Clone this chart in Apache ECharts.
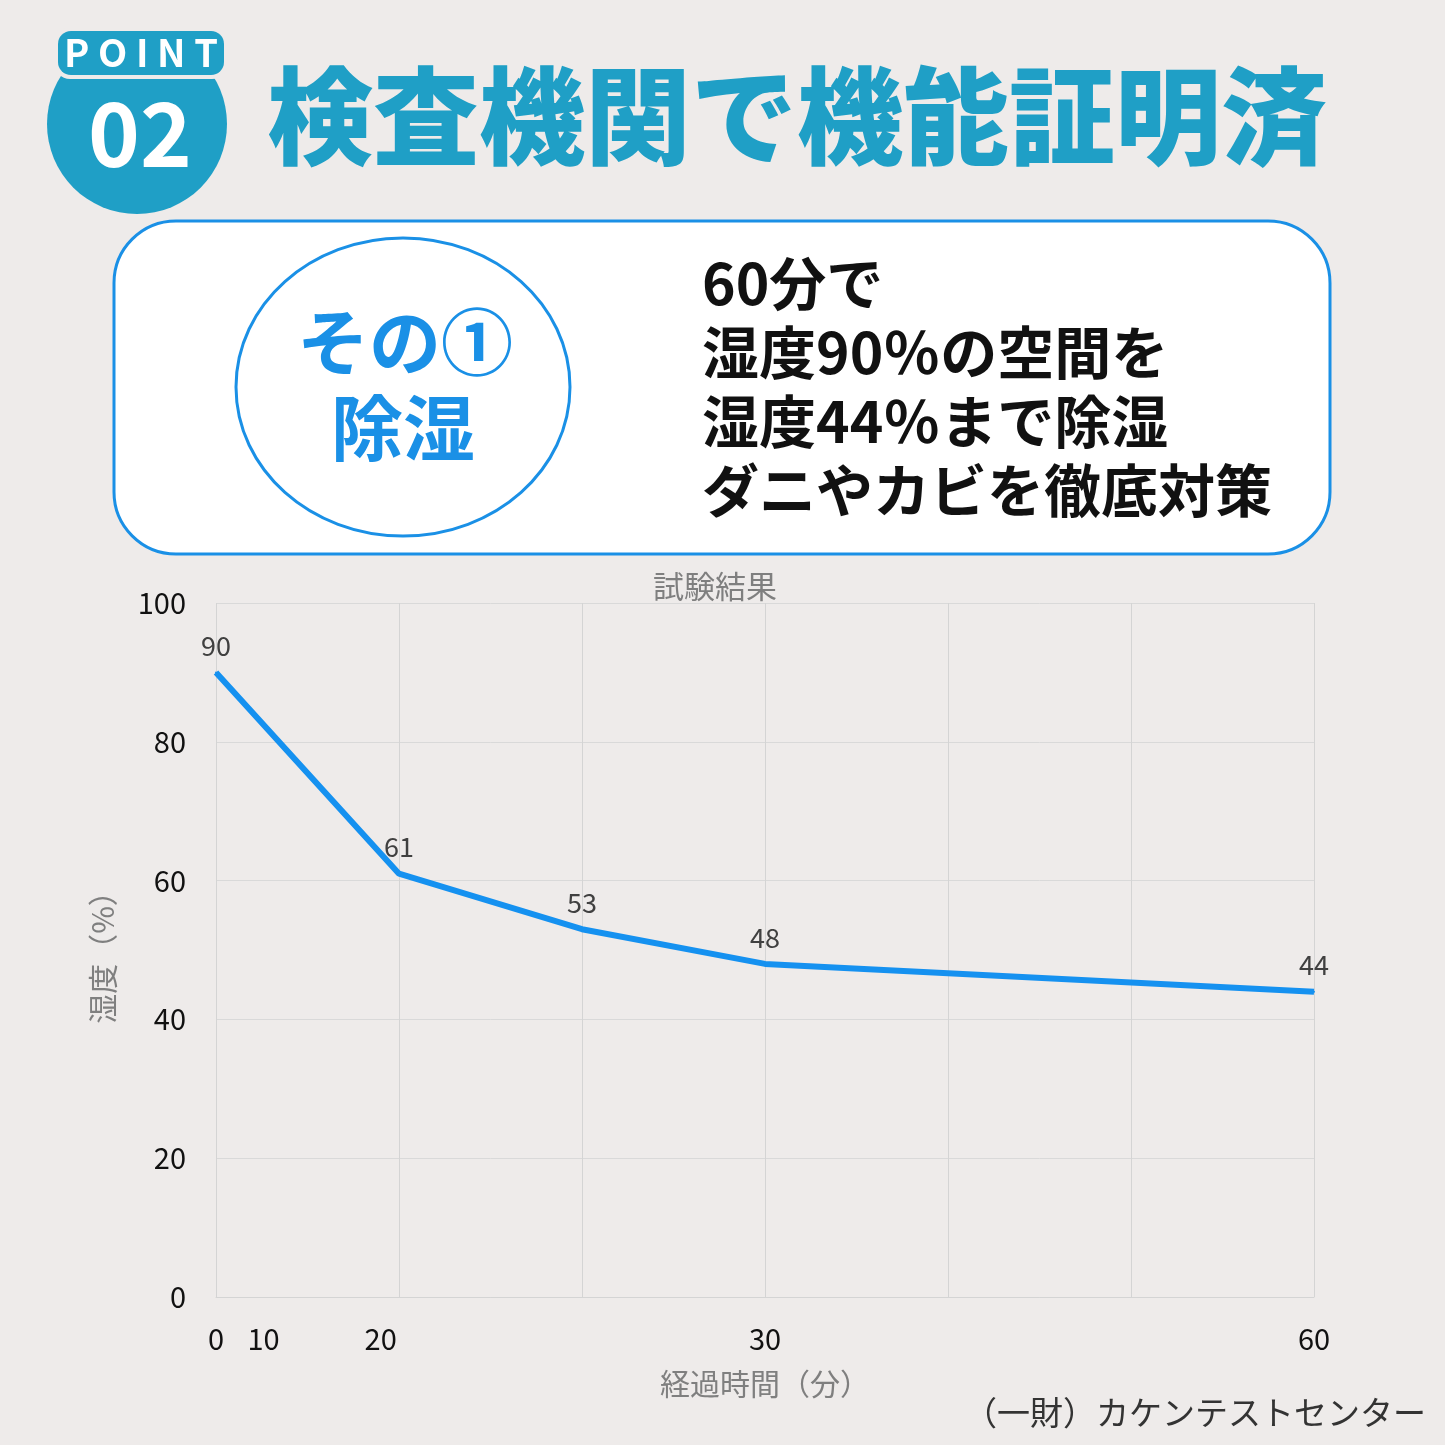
<!DOCTYPE html>
<html>
<head>
<meta charset="utf-8">
<script src="https://cdn.jsdelivr.net/npm/echarts@6/dist/echarts.min.js"></script>
<style>
  html, body { margin: 0; padding: 0; background: #eeebea; }
  #main { width: 1445px; height: 1445px; }
</style>
</head>
<body>
<div id="main"></div>
<script>
// 試験結果: 経過時間（分） vs 湿度（%）
var xPos = [0, 1, 2, 3, 6];
var humidity = [90, 61, 53, 48, 44];
var xTickPos = [0, 0.26, 0.9, 3, 6];
var xTickLabels = ['0', '10', '20', '30', '60'];
var yTicks = [0, 20, 40, 60, 80, 100];
var infoLines = ['60分で', '湿度90％の空間を', '湿度44％まで除湿', 'ダニやカビを徹底対策'];

var FONT = '"Noto Sans CJK JP", "Noto Sans", sans-serif';
var TEAL = '#1f9fc6';
var BLUE = '#1a90e6';

var chart = echarts.init(document.getElementById('main'));

var graphics = [
  // POINT 02 badge
  { type: 'circle', shape: { cx: 137, cy: 124, r: 90 }, style: { fill: TEAL } },
  { type: 'rect', shape: { x: 54, y: 27, width: 174, height: 52, r: 16 }, style: { fill: '#eeebea' } },
  { type: 'rect', shape: { x: 58, y: 31, width: 166, height: 44, r: 13 }, style: { fill: TEAL } },
  { type: 'text', x: 141, y: 53, style: { text: 'P O I N T', fill: '#fff', font: 'bold 38px ' + FONT, textAlign: 'center', textVerticalAlign: 'middle' } },
  { type: 'text', x: 140, y: 134, style: { text: '02', fill: '#fff', font: 'bold 88px ' + FONT, textAlign: 'center', textVerticalAlign: 'middle' } },
  { type: 'text', x: 267, y: 116, style: { text: '検査機関で機能証明済', fill: TEAL, font: '900 106px ' + FONT, textAlign: 'left', textVerticalAlign: 'middle' } },
  // white info box
  { type: 'rect', shape: { x: 114, y: 221, width: 1216, height: 333, r: 62 }, style: { fill: '#ffffff', stroke: BLUE, lineWidth: 3 } },
  { type: 'ellipse', shape: { cx: 403, cy: 387, rx: 167, ry: 149 }, style: { fill: '#ffffff', stroke: BLUE, lineWidth: 3 } },
  { type: 'text', x: 405, y: 342, style: { text: 'その①', fill: BLUE, font: 'bold 72px ' + FONT, textAlign: 'center', textVerticalAlign: 'middle' } },
  { type: 'text', x: 403, y: 428, style: { text: '除湿', fill: BLUE, font: 'bold 72px ' + FONT, textAlign: 'center', textVerticalAlign: 'middle' } },
  // source
  { type: 'text', x: 1426, y: 1412, style: { text: '（一財）カケンテストセンター', fill: '#333', font: '33px ' + FONT, textAlign: 'right', textVerticalAlign: 'middle' } }
];
infoLines.forEach(function (t, i) {
  graphics.push({ type: 'text', x: 702, y: 283 + i * 69, style: { text: t, fill: '#111', font: 'bold 57px ' + FONT, textAlign: 'left', textVerticalAlign: 'middle' } });
});

chart.setOption({
  backgroundColor: '#eeebea',
  animation: false,
  textStyle: { fontFamily: FONT },
  title: {
    text: '試験結果', left: 648, top: 566,
    textStyle: { fontSize: 31, fontWeight: 'normal', color: '#7f7f7f', fontFamily: FONT }
  },
  grid: { left: 216, right: 131, top: 603, bottom: 148 },
  xAxis: {
    type: 'value', min: 0, max: 6, interval: 1,
    name: '経過時間（分）', nameLocation: 'middle', nameGap: 72,
    nameTextStyle: { fontSize: 30, color: '#7f7f7f' },
    axisLine: { show: true, lineStyle: { color: '#d4d4d4', width: 1 } },
    axisTick: { show: false },
    splitLine: { show: true, lineStyle: { color: '#d4d4d4', width: 1 } },
    axisLabel: {
      customValues: xTickPos,
      margin: 27, fontSize: 29, color: '#111',
      formatter: function (v) {
        var i = xTickPos.indexOf(v);
        return i >= 0 ? xTickLabels[i] : '';
      }
    }
  },
  yAxis: {
    type: 'value', min: 0, max: 100, interval: 20,
    name: '湿度（%）', nameLocation: 'middle', nameGap: 98,
    nameTextStyle: { fontSize: 30, color: '#7f7f7f' },
    axisLine: { show: false },
    axisTick: { show: false },
    splitLine: { show: true, lineStyle: { color: '#d9d9d9', width: 1 } },
    axisLabel: {
      margin: 30, fontSize: 29, color: '#111',
      customValues: yTicks
    }
  },
  series: [{
    type: 'line',
    data: xPos.map(function (x, i) { return [x, humidity[i]]; }),
    symbol: 'circle', symbolSize: 2,
    itemStyle: { color: '#1591f0' },
    lineStyle: { color: '#1591f0', width: 6 },
    label: {
      show: true, position: 'top', distance: 12,
      fontSize: 27, color: '#404040',
      formatter: function (p) { return p.value[1]; }
    }
  }],
  graphic: graphics
});
</script>
</body>
</html>
